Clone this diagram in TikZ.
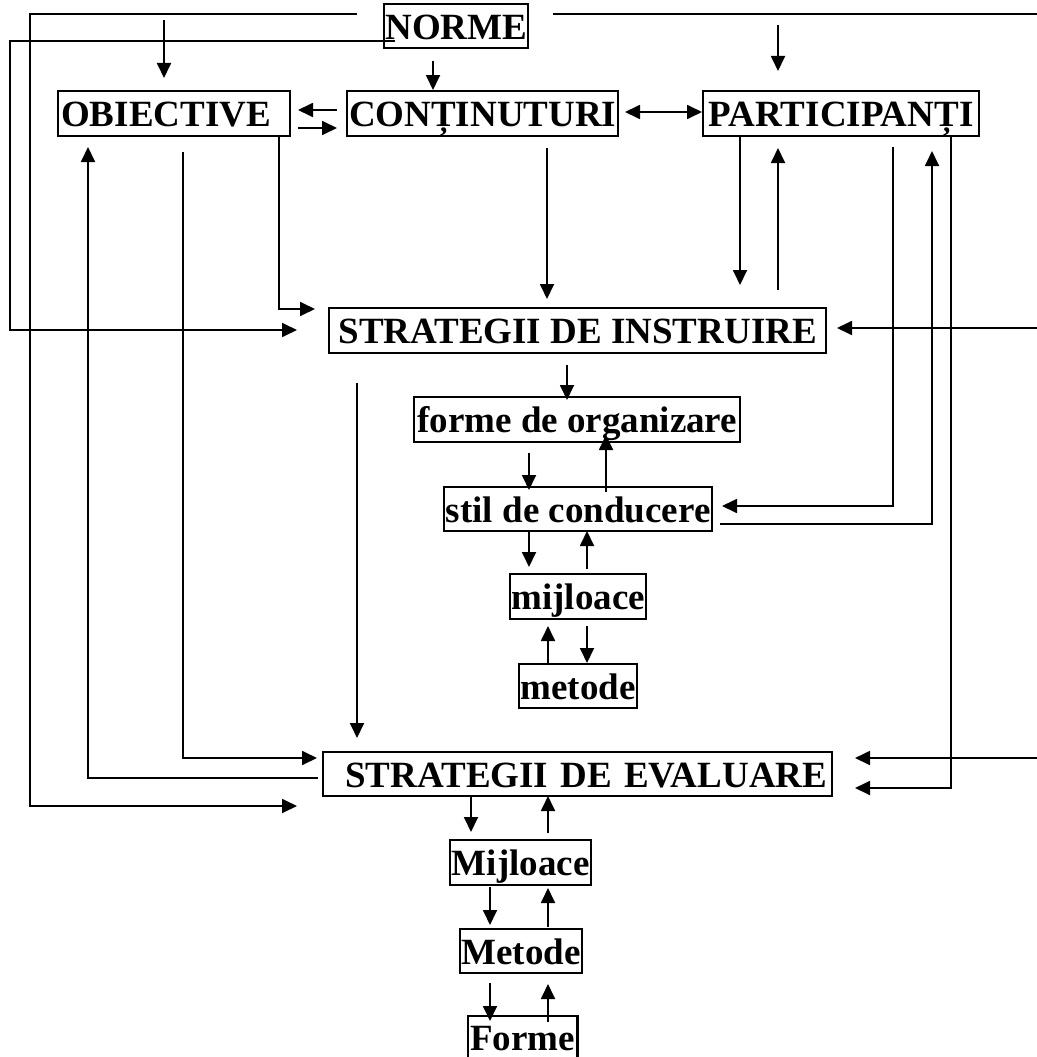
\documentclass[tikz,border=0pt]{standalone}
\usepackage{fontspec}
\setmainfont{Liberation Serif}
\usetikzlibrary{arrows.meta}
\begin{document}
\begin{tikzpicture}[x=1pt,y=-1pt,
  bx/.style={draw, line width=2.4pt, inner sep=0pt, anchor=north west,
    text height=31pt, text depth=5pt,
    font=\fontsize{37}{40}\selectfont\bfseries},
  ln/.style={line width=1.8pt},
  arr/.style={ln, -{Triangle[length=15pt,width=14pt]}},
  dbl/.style={ln, {Triangle[length=15pt,width=14pt]}-{Triangle[length=15pt,width=14pt]}}]
\useasboundingbox (0,0) rectangle (1036,1057);
% connectors
\draw[arr] (357,14) -- (30,14) -- (30,806) -- (297,806);
\draw[arr] (164,20) -- (164,78);
\draw[arr] (395,41) -- (10,41) -- (10,330) -- (297,330);
\draw[arr] (553,14) -- (1040,14) -- (1040,758) -- (855,758);
\draw[arr] (1040,328) -- (837,328);
\draw[arr] (778,25) -- (778,71);
\draw[arr] (337,110) -- (298,110);
\draw[arr] (298,128) -- (337,128);
\draw[arr] (547,148) -- (547,299);
\draw[arr] (183,152) -- (183,758) -- (317,758);
\draw[arr] (318,778) -- (88,778) -- (88,147);
\draw[arr] (778,290) -- (778,148);
\draw[arr] (893,147) -- (893,506) -- (722,506);
\draw[arr] (720,524) -- (932,524) -- (932,151);
\draw[arr] (567,365) -- (567,400);
\draw[arr] (529,453) -- (529,490);
\draw[arr] (606,492) -- (606,435);
\draw[arr] (587,569) -- (587,531);
\draw[arr] (548,665) -- (548,626);
\draw[arr] (587,626) -- (587,663);
\draw[arr] (357,383) -- (357,738);
\draw[arr] (548,833) -- (548,796);
\draw[arr] (490,887) -- (490,925);
\draw[arr] (548,927) -- (548,888);
\draw[arr] (490,983) -- (490,1021);
\draw[arr] (548,1022) -- (548,984);
% nodes
\node[bx, minimum width=144pt, minimum height=44pt] (norme) at (383,3) {NORME};
\node[bx, minimum width=232pt, minimum height=45pt, text width=226pt, align=left] (obj) at (57,90) {OBIECTIVE};
\node[bx, minimum width=271pt, minimum height=45pt] (cont) at (346,90) {CONȚINUTURI};
\node[bx, minimum width=276pt, minimum height=45pt] (part) at (702,90) {PARTICIPANȚI};
\node[bx, minimum width=497pt, minimum height=45pt] (instr) at (328,307) {STRATEGII DE INSTRUIRE};
\node[bx, minimum width=326pt, minimum height=45pt] (forme) at (413,396) {forme de organizare};
\node[bx, minimum width=268pt, minimum height=44pt] (stil) at (443,486) {stil de conducere};
\node[bx, minimum width=136pt, minimum height=45pt] (mijl) at (509,573) {mijloace};
\node[bx, minimum width=118pt, minimum height=44pt] (met) at (518,663) {metode};
\node[bx, minimum width=509pt, minimum height=44pt, text width=499pt, align=right] (eval) at (322,751) {STRATEGII DE EVALUARE};
\node[bx, minimum width=141pt, minimum height=45pt] (Mij) at (449,839) {Mijloace};
\node[bx, minimum width=122pt, minimum height=44pt] (Met) at (459,928) {Metode};
\node[bx, draw=none, minimum width=107pt, minimum height=40pt] (For) at (468,1016) {Forme};
\draw[line width=2.4pt] ([yshift=-6pt]For.south west) -- (For.north west) -- (For.north east) -- ([yshift=-6pt]For.south east);
% connectors touching nodes
\draw[arr] (433,61) -- (433,0 |- cont.north);
\draw[dbl] (625,112) -- (part.west |- 0,112);
\draw[arr] (279,0 |- obj.south) -- (279,309) -- (315,309);
\draw[arr] (740,0 |- part.south) -- (740,285);
\draw[arr] (951,0 |- part.south) -- (951,788) -- (855,788);
\draw[arr] (529,0 |- stil.south) -- (529,567);
\draw[arr] (471,0 |- eval.south) -- (471,832);
\end{tikzpicture}
\end{document}
